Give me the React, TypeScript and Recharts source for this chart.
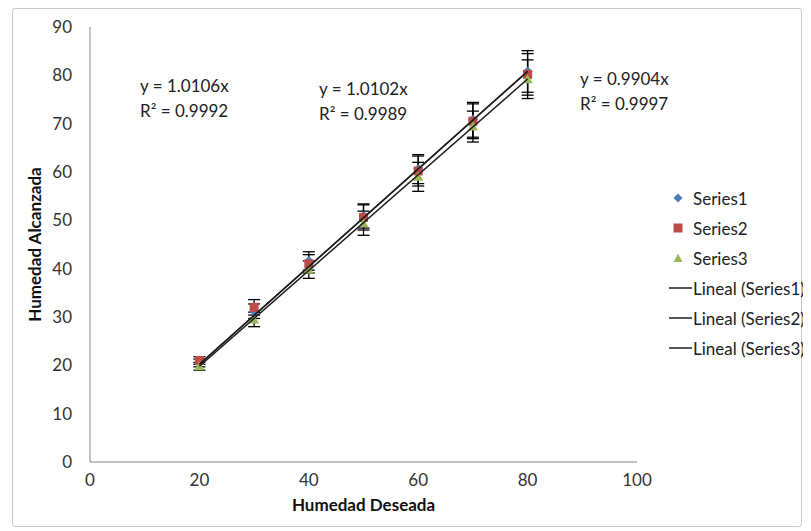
import React from 'react';
import { ScatterChart, Scatter, XAxis, YAxis, ErrorBar, Label } from 'recharts';

const xValues = [20, 30, 40, 50, 60, 70, 80];
const series1 = [20.5, 31.2, 41.6, 50.9, 60.6, 70.8, 80.8];
const series2 = [21, 32, 41, 50.6, 60.2, 70.5, 80.2];
const series3 = [19.8, 29.5, 39.8, 49.4, 59, 69.4, 79.2];
const errors1 = [0.8, 1.5, 1.9, 2.5, 3, 3.6, 4.3];
const errors2 = [0.8, 1.6, 1.9, 2.6, 3.1, 3.6, 4.3];
const errors3 = [0.8, 1.5, 1.8, 2.5, 3, 3.2, 4];
const slopes = [1.0106, 1.0102, 0.9904];
const rSquared = [0.9992, 0.9989, 0.9997];
const seriesNames = ['Series1', 'Series2', 'Series3'];
const xTicks = [0, 20, 40, 60, 80, 100];
const yTicks = [0, 10, 20, 30, 40, 50, 60, 70, 80, 90];

const colors = ['#4A7EBB', '#BE4B48', '#98B954'];
const FONT = 'Lato, "Open Sans", sans-serif';

const build = (ys: number[], errs: number[]) =>
  xValues.map((x, i) => ({ x, y: ys[i], err: errs[i] }));

const data1 = build(series1, errors1);
const data2 = build(series2, errors2);
const data3 = build(series3, errors3);

const xMin = Math.min(...xValues);
const xMax = Math.max(...xValues);
const trends = slopes.map((s) => [
  { x: xMin, y: s * xMin },
  { x: xMax, y: s * xMax },
]);

const Diamond = (p: any) => {
  const { cx, cy } = p;
  const r = 5;
  return <path d={`M${cx},${cy - r}L${cx + r},${cy}L${cx},${cy + r}L${cx - r},${cy}Z`} fill={colors[0]} />;
};
const Square = (p: any) => {
  const { cx, cy } = p;
  const r = 4.5;
  return <rect x={cx - r} y={cy - r} width={2 * r} height={2 * r} fill={colors[1]} />;
};
const Triangle = (p: any) => {
  const { cx, cy } = p;
  const r = 5;
  return <path d={`M${cx},${cy - r}L${cx + r},${cy + r * 0.8}L${cx - r},${cy + r * 0.8}Z`} fill={colors[2]} />;
};
const NoShape = () => <g />;

const annotationPos = [
  { left: 132, top: 65 },
  { left: 311, top: 68 },
  { left: 572, top: 58 },
];

const legendMarkers = [
  <path d="M15,10.5L19.5,15L15,19.5L10.5,15Z" fill={colors[0]} />,
  <rect x={10.5} y={10.5} width={9} height={9} fill={colors[1]} />,
  <path d="M15,10.5L19.5,19L10.5,19Z" fill={colors[2]} />,
];

export default function App() {
  return (
    <div style={{ position: 'relative', width: 795, height: 523, fontFamily: FONT }}>
      <div
        style={{
          position: 'absolute',
          left: 4,
          top: 0,
          width: 790,
          height: 519,
          border: '1px solid #c9c9c9',
          borderRadius: 3,
          boxSizing: 'border-box',
        }}
      />
      <div style={{ position: 'absolute', left: 0, top: 0 }}>
        <ScatterChart width={795} height={523} margin={{ top: 19, right: 166, bottom: 9, left: 0 }}>
          <XAxis
            type="number"
            dataKey="x"
            domain={[0, 100]}
            ticks={xTicks}
            tickLine={false}
            tickSize={0}
            tickMargin={12}
            height={60}
            stroke="#868686"
            tick={{ fill: '#333', fontSize: 17, fontFamily: FONT }}
          >
            <Label
              value="Humedad Deseada"
              position="insideBottom"
              offset={11}
              style={{ fontWeight: 'bold', fontSize: 17, fill: '#111', fontFamily: FONT }}
            />
          </XAxis>
          <YAxis
            type="number"
            dataKey="y"
            domain={[0, 90]}
            ticks={yTicks}
            tickLine={false}
            tickSize={0}
            tickMargin={18}
            width={82}
            stroke="#868686"
            tick={{ fill: '#333', fontSize: 17, fontFamily: FONT }}
          >
            <Label
              value="Humedad Alcanzada"
              angle={-90}
              position="insideLeft"
              offset={27}
              style={{ fontWeight: 'bold', fontSize: 17, fill: '#111', fontFamily: FONT, textAnchor: 'middle' }}
            />
          </YAxis>
          <Scatter name={seriesNames[0]} data={data1} shape={Diamond} isAnimationActive={false}>
            <ErrorBar dataKey="err" direction="y" width={6} stroke="#000" strokeWidth={1.3} />
          </Scatter>
          <Scatter name={seriesNames[1]} data={data2} shape={Square} isAnimationActive={false}>
            <ErrorBar dataKey="err" direction="y" width={6} stroke="#000" strokeWidth={1.3} />
          </Scatter>
          <Scatter name={seriesNames[2]} data={data3} shape={Triangle} isAnimationActive={false}>
            <ErrorBar dataKey="err" direction="y" width={6} stroke="#000" strokeWidth={1.3} />
          </Scatter>
          {trends.map((t, i) => (
            <Scatter
              key={i}
              name={`Lineal (${seriesNames[i]})`}
              data={t}
              line={{ stroke: '#1e1e1e', strokeWidth: 1.5 }}
              lineType="joint"
              shape={NoShape}
              isAnimationActive={false}
            />
          ))}
        </ScatterChart>
      </div>
      {slopes.map((s, i) => (
        <div
          key={i}
          style={{
            position: 'absolute',
            left: annotationPos[i].left,
            top: annotationPos[i].top,
            fontSize: 17,
            lineHeight: '25px',
            color: '#222',
            whiteSpace: 'nowrap',
          }}
        >
          <div>{`y = ${s.toFixed(4)}x`}</div>
          <div>{`R² = ${rSquared[i].toFixed(4)}`}</div>
        </div>
      ))}
      <div style={{ position: 'absolute', left: 655, top: 175, fontSize: 17, color: '#222' }}>
        {seriesNames.map((n, i) => (
          <div key={n} style={{ display: 'flex', alignItems: 'center', height: 30, whiteSpace: 'nowrap' }}>
            <svg width={30} height={30}>{legendMarkers[i]}</svg>
            <span>{n}</span>
          </div>
        ))}
        {seriesNames.map((n) => (
          <div key={'l' + n} style={{ display: 'flex', alignItems: 'center', height: 30, whiteSpace: 'nowrap' }}>
            <svg width={30} height={30}>
              <line x1={6} y1={15} x2={29} y2={15} stroke="#1e1e1e" strokeWidth={1.5} />
            </svg>
            <span>{`Lineal (${n})`}</span>
          </div>
        ))}
      </div>
    </div>
  );
}
